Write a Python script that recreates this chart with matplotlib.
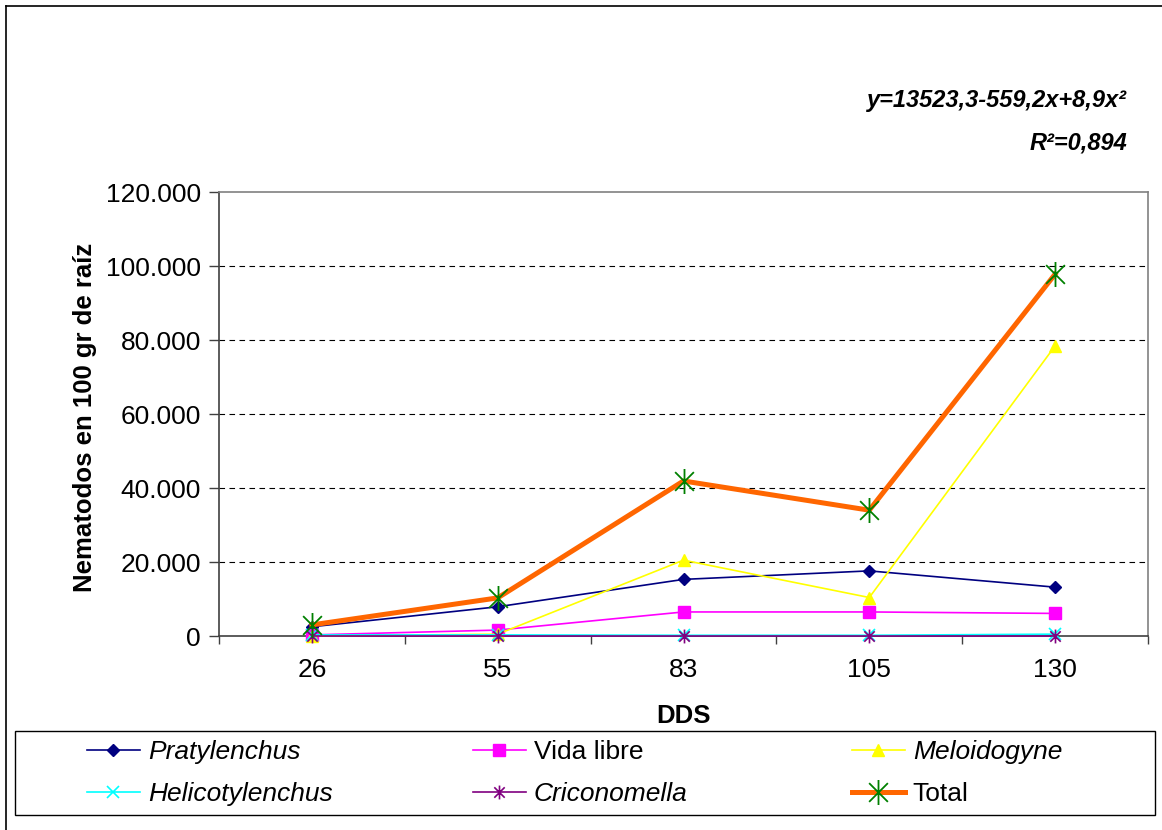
import matplotlib.pyplot as plt
from matplotlib.lines import Line2D
from matplotlib.patches import Rectangle
from matplotlib.path import Path
from matplotlib.ticker import FuncFormatter, FixedLocator
import numpy as np

plt.rcParams["font.family"] = ["Liberation Sans", "DejaVu Sans"]

# data
dds = ["26", "55", "83", "105", "130"]
pratylenchus = [2500, 7900, 15300, 17600, 13200]
vidaLibre = [300, 1600, 6500, 6500, 6100]
meloidogyne = [0, 500, 20500, 10400, 78400]
helicotylenchus = [300, 300, 200, 200, 500]
criconomella = [0, 0, 0, 0, 0]
total = [3000, 10300, 41900, 34000, 97800]

W, H = 1162, 830
fig = plt.figure(figsize=(W / 100, H / 100), dpi=100)
ax = fig.add_axes([219 / W, 1 - 636 / H, (1148 - 219) / W, (636 - 192) / H])

x = np.arange(len(dds))

# asterisco estilo Excel: vertical + dos diagonales
asterisk = Path([(0, -1), (0, 1), (-0.75, -0.75), (0.75, 0.75), (-0.75, 0.75), (0.75, -0.75)],
                [Path.MOVETO, Path.LINETO] * 3)

series = [
    ("Pratylenchus", pratylenchus, dict(color="#000080", marker="D", ms=6, lw=1.2,
                                         mfc="#000080", mec="#000080"), True),
    ("Vida libre", vidaLibre, dict(color="#FF00FF", marker="s", ms=8, lw=1.2,
                                    mfc="#FF00FF", mec="#FF00FF"), False),
    ("Meloidogyne", meloidogyne, dict(color="#FFFF00", marker="^", ms=9, lw=1.2,
                                       mfc="#FFFF00", mec="#FFFF00"), True),
    ("Helicotylenchus", helicotylenchus, dict(color="#00FFFF", marker="x", ms=8, lw=1.2,
                                               mew=1.2, mec="#00FFFF"), True),
    ("Criconomella", criconomella, dict(color="#800080", marker=asterisk, ms=10, lw=1.2,
                                         mew=1.2, mfc="none", mec="#800080"), True),
    ("Total", total, dict(color="#FF6600", marker=asterisk, ms=18, lw=3.6,
                          mew=1.3, mfc="none", mec="#008000"), False),
]

handles = []
for i, (name, vals, style, italic) in enumerate(series):
    ax.plot(x, vals, zorder=3 + i, clip_on=False, **style)
    handles.append(Line2D([], [], **style))

# axes
ax.set_xlim(-0.5, len(dds) - 0.5)
ax.set_ylim(0, 120000)
ax.set_yticks(np.arange(0, 120001, 20000))
ax.yaxis.set_major_formatter(FuncFormatter(lambda v, p: f"{int(v):,}".replace(",", ".")))
ax.set_xticks(x)
ax.set_xticklabels(dds)
ax.xaxis.set_minor_locator(FixedLocator(np.arange(-0.5, len(dds), 1.0)))
ax.tick_params(axis="x", which="major", length=0, pad=16, labelsize=19)
ax.tick_params(axis="x", which="minor", length=6, width=1, color="#404040", direction="out")
ax.tick_params(axis="y", length=7, width=1, color="#404040", direction="out", pad=6, labelsize=19)

for yv in range(20000, 120000, 20000):
    ax.axhline(yv, color="black", lw=0.8, ls=(0, (5, 4)), zorder=1)

for side in ["top", "right"]:
    ax.spines[side].set_color("#808080")
    ax.spines[side].set_linewidth(1.2)
for side in ["left", "bottom"]:
    ax.spines[side].set_color("#404040")
    ax.spines[side].set_linewidth(1.2)

# labels
fig.text(85 / W, 1 - 417 / H, "Nematodos en 100 gr de raíz", rotation=90, ha="center",
         va="center", fontsize=18.5, fontweight="bold")
fig.text(684 / W, 1 - 716 / H, "DDS", ha="center", va="center", fontsize=18.5, fontweight="bold")

fig.text(1127 / W, 1 - 101 / H, "y=13523,3-559,2x+8,9x²", ha="right", va="center",
         fontsize=17, fontweight="bold", fontstyle="italic")
fig.text(1127 / W, 1 - 143 / H, "R²=0,894", ha="right", va="center",
         fontsize=17, fontweight="bold", fontstyle="italic")

# outer frame (only left/top visible)
fig.add_artist(Line2D([6 / W, 6 / W], [0, 1 - 6 / H], color="black", lw=1.2))
fig.add_artist(Line2D([6 / W, 1], [1 - 6 / H, 1 - 6 / H], color="black", lw=1.2))

# legend box
fig.add_artist(Rectangle((15 / W, 1 - 815 / H), (1155 - 15) / W, (815 - 731) / H,
                         transform=fig.transFigure, fill=False, ec="black", lw=1.0))
colStarts = [87, 473, 852]
for c in range(3):
    idx = [c, c + 3]
    leg = fig.legend([handles[i] for i in idx], [series[i][0] for i in idx],
                     loc="upper left", bbox_to_anchor=(colStarts[c] / W, 1 - 740 / H),
                     frameon=False, fontsize=19, borderpad=0, borderaxespad=0,
                     handlelength=2.0, handletextpad=0.3, labelspacing=0.68)
    for t, i in zip(leg.get_texts(), idx):
        if series[i][3]:
            t.set_fontstyle("italic")

fig.savefig("out.png", dpi=100)
